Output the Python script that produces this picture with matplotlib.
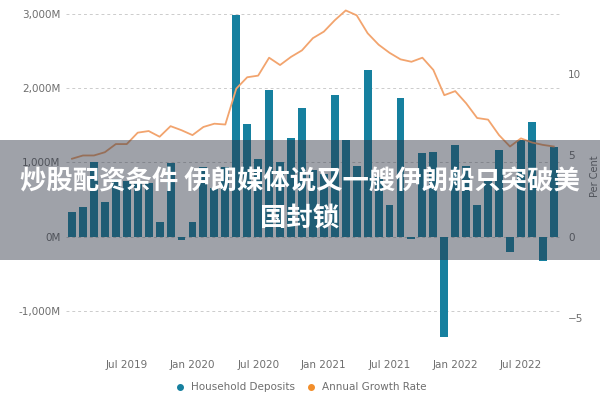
import numpy as np
import pandas as pd
import matplotlib.pyplot as plt
from matplotlib.lines import Line2D
from matplotlib.patches import Rectangle

plt.rcParams['font.family'] = ['DejaVu Sans', 'Noto Sans CJK SC']

# monthly categories, Feb 2019 .. Oct 2022
months = pd.date_range('2019-02-01', periods=45, freq='MS')

# household deposits, millions
deposits = [335, 400, 1000, 475, 780, 750, 740, 720, 205, 990,
            -40, 205, 945, 655, 945, 2980, 1515, 1050, 1970, 1000,
            1330, 1730, 900, 850, 1905, 1300, 950, 2240, 800, 430,
            1865, -30, 1125, 1140, -1345, 1240, 950, 430, 750, 1170,
            -200, 1300, 1550, -320, 1210]

# annual growth rate, per cent
growth = [4.8, 5.0, 5.0, 5.2, 5.7, 5.7, 6.4, 6.5, 6.15, 6.8,
          6.55, 6.25, 6.75, 6.95, 6.9, 9.1, 9.8, 9.9, 11.0, 10.55,
          11.05, 11.45, 12.2, 12.6, 13.3, 13.9, 13.6, 12.5, 11.8, 11.3,
          10.9, 10.75, 11.0, 10.25, 8.7, 8.95, 8.2, 7.3, 7.2, 6.25,
          5.55, 6.05, 5.8, 5.65, 5.55]

left_ticks = [-1000, 0, 1000, 2000, 3000]
left_labels = ['-1,000M', '0M', '1,000M', '2,000M', '3,000M']
right_ticks = [-5, 0, 5, 10]

banner = '炒股配资条件 伊朗媒体说又一艘伊朗船只突破美\n国封锁'

bar_color = '#16809F'
line_color = '#F2A46E'
grey = '#6E6E6E'

fig = plt.figure(figsize=(6, 4), dpi=100)
ax = fig.add_axes([0.11, 0.1375, 0.823, 0.8425])
x = np.arange(len(months))

ax.bar(x, deposits, width=0.72, color=bar_color, zorder=2)
ax.set_ylim(-1450, 3074)
ax.set_xlim(-0.55, len(months) - 0.45)
ax.set_yticks(left_ticks)
ax.set_yticklabels(left_labels)
ax.grid(axis='y', color='#CCCCCC', linestyle=(0, (3, 3)), linewidth=0.7, zorder=0)

tick_pos = [i for i, m in enumerate(months) if m.month in (1, 7)]
ax.set_xticks(tick_pos)
ax.set_xticklabels([months[i].strftime('%b %Y') for i in tick_pos])

ax2 = ax.twinx()
ax2.plot(x, growth, color=line_color, linewidth=1.3, zorder=3)
ax2.set_ylim(-6.63, 14.05)
ax2.set_yticks(right_ticks)
ax2.set_ylabel('Per Cent', color=grey, fontsize=7, labelpad=5)

for a in (ax, ax2):
    for s in a.spines.values():
        s.set_visible(False)
    a.tick_params(length=0, labelsize=7.5, labelcolor=grey)
ax.tick_params(axis='x', pad=11)
ax.tick_params(axis='y', pad=4)
ax2.tick_params(axis='y', pad=6)

handles = [Line2D([], [], marker='o', linestyle='', markersize=4, color=bar_color),
           Line2D([], [], marker='o', linestyle='', markersize=4, color='#F28E2B')]
fig.legend(handles, ['Household Deposits', 'Annual Growth Rate'], loc='center',
           bbox_to_anchor=(0.497, 0.032), ncol=2, frameon=False, fontsize=7.5,
           handletextpad=0.05, columnspacing=0.6, labelcolor=grey)

# grey caption band across the middle
fig.patches.append(Rectangle((0, 0.35), 1, 0.3, transform=fig.transFigure,
                             facecolor='#2A3141', alpha=0.45, zorder=5))
fig.text(0.5, 0.5, banner, ha='center', va='center', multialignment='center',
         color='white', fontsize=19, fontweight='bold', linespacing=1.4,
         family=['Noto Sans CJK SC', 'DejaVu Sans'], zorder=6)

fig.savefig('out.png', dpi=100)
